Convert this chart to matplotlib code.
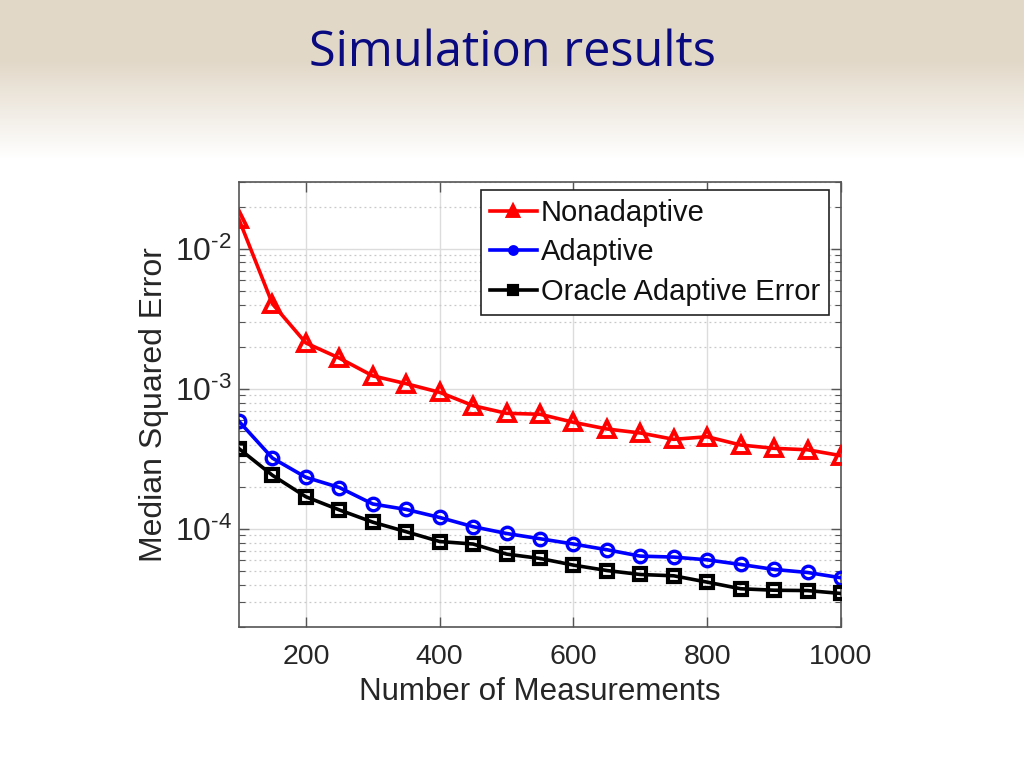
import numpy as np
import matplotlib
matplotlib.use("Agg")
import matplotlib.pyplot as plt
from matplotlib.ticker import LogLocator, FixedLocator, FixedFormatter, NullFormatter

# ---- data ----
measurements = [100, 150, 200, 250, 300, 350, 400, 450, 500, 550,
                600, 650, 700, 750, 800, 850, 900, 950, 1000]
nonadaptive = [0.0162, 0.00405, 0.00213, 0.00166, 0.00124, 0.00109, 0.000946,
               0.00076, 0.00067, 0.00066, 0.000578, 0.000518, 0.000485,
               0.000437, 0.000456, 0.000398, 0.000377, 0.000368, 0.000334]
adaptive = [0.000587, 0.000321, 0.000234, 0.000198, 0.000151, 0.000138,
            0.000121, 0.000104, 9.3e-5, 8.53e-5, 7.82e-5, 7.12e-5, 6.41e-5,
            6.31e-5, 6.03e-5, 5.59e-5, 5.15e-5, 4.9e-5, 4.49e-5]
oracle = [0.000375, 0.000242, 0.000170, 0.000137, 0.000112, 9.57e-5,
          8.15e-5, 7.82e-5, 6.63e-5, 6.17e-5, 5.53e-5, 5.06e-5, 4.74e-5,
          4.64e-5, 4.18e-5, 3.75e-5, 3.66e-5, 3.64e-5, 3.47e-5]
series_labels = ["Nonadaptive", "Adaptive", "Oracle Adaptive Error"]
x_ticks = [200, 400, 600, 800, 1000]
y_ticks = [1e-4, 1e-3, 1e-2]
y_exponents = ["4", "3", "2"]
title_text = "Simulation results"
x_label = "Number of Measurements"
y_label = "Median Squared Error"

font = "Liberation Sans"
plt.rcParams["font.family"] = [font, "DejaVu Sans"]
plt.rcParams["mathtext.fontset"] = "custom"
plt.rcParams["mathtext.rm"] = font
plt.rcParams["mathtext.it"] = font + ":italic"
plt.rcParams["mathtext.bf"] = font + ":bold"

W, H = 1024, 768
fig = plt.figure(figsize=(W / 100, H / 100), dpi=100)
fig.patch.set_facecolor("white")

# background gradient band at top
bg = fig.add_axes([0, 0, 1, 1], zorder=-10)
bg.set_axis_off()
n = 768
rows = np.arange(n)
frac = np.clip((rows - 60) / (158 - 60), 0, 1)
top = np.array([226, 216, 200]) / 255.0
grad = top[None, :] * (1 - frac[:, None]) + np.ones(3)[None, :] * frac[:, None]
img = np.repeat(grad[:, None, :], 4, axis=1)
bg.imshow(img, aspect="auto", extent=[0, 1, 0, 1], origin="upper")
bg.set_xlim(0, 1)
bg.set_ylim(0, 1)

fig.text(0.5, 1 - 66 / H, title_text, ha="center", va="baseline",
         fontsize=35, color="#0a0a80", family="Open Sans")

ax = fig.add_axes([239 / W, 1 - 627 / H, (841 - 239) / W, (627 - 182) / H])
ax.set_facecolor("white")

lw = 2.6
ax.plot(measurements, nonadaptive, color="#ff0000", lw=lw, marker="^",
        markersize=11, markerfacecolor="none", markeredgewidth=2.8,
        label=series_labels[0], zorder=5)
ax.plot(measurements, adaptive, color="#0000ff", lw=lw, marker="o",
        markersize=9, markerfacecolor="none", markeredgewidth=2.4,
        label=series_labels[1], zorder=5)
ax.plot(measurements, oracle, color="#000000", lw=lw, marker="s",
        markersize=8.5, markerfacecolor="none", markeredgewidth=3.0,
        label=series_labels[2], zorder=5)

ax.set_yscale("log")
ax.set_xlim(100, 1000)
ax.set_ylim(2e-5, 3e-2)
ax.xaxis.set_major_locator(FixedLocator(x_ticks))
ax.yaxis.set_major_locator(FixedLocator(y_ticks))
ax.yaxis.set_minor_locator(LogLocator(base=10, subs=np.arange(2, 10), numticks=20))
ax.yaxis.set_minor_formatter(NullFormatter())

# y tick labels with a short hyphen in the exponent (MATLAB style)
labels_text = ["$10^{\\text{-}%s}$" % e for e in y_exponents]
labels_fallback = ["$10^{-%s}$" % e for e in y_exponents]
ax.yaxis.set_major_formatter(FixedFormatter(labels_text))
try:
    fig.canvas.draw()
except Exception:
    ax.yaxis.set_major_formatter(FixedFormatter(labels_fallback))

ax.grid(True, which="major", color="#dcdcdc", lw=1.0, ls="-")
ax.grid(True, which="minor", axis="y", color="#c8c8c8", lw=0.9, ls=(0, (1.5, 2.5)))
ax.set_axisbelow(True)

tick_color = "#262626"
ax.tick_params(which="both", direction="in", top=True, right=True,
               color="#555555", labelcolor=tick_color)
ax.tick_params(which="major", length=7, width=1.0)
ax.tick_params(axis="x", which="major", pad=12, labelsize=20.5)
ax.tick_params(axis="y", which="major", pad=5, labelsize=23)
ax.tick_params(which="minor", length=4, width=0.8)
for sp in ax.spines.values():
    sp.set_color("#555555")
    sp.set_linewidth(1.2)

ax.set_xlabel(x_label, fontsize=22.5, color=tick_color, labelpad=5)
ylab = ax.set_ylabel(y_label, fontsize=23, color=tick_color)
ylab.set_va("center")
ax.yaxis.set_label_coords((154 - 239) / 602, 0.5)

leg = ax.legend(loc="upper right", bbox_to_anchor=(0.980, 0.982),
                prop={"family": font, "size": 21}, frameon=True,
                fancybox=False, edgecolor="#222222", framealpha=1,
                handlelength=1.6, handletextpad=0.15, borderpad=0.3,
                labelspacing=0.4, markerscale=0.6, borderaxespad=0)
leg.get_frame().set_linewidth(1.2)
for h in leg.legend_handles:
    h.set_markerfacecolor(h.get_color())
for t_ in leg.get_texts():
    t_.set_color("#111111")

fig.savefig("out.png", dpi=100)
